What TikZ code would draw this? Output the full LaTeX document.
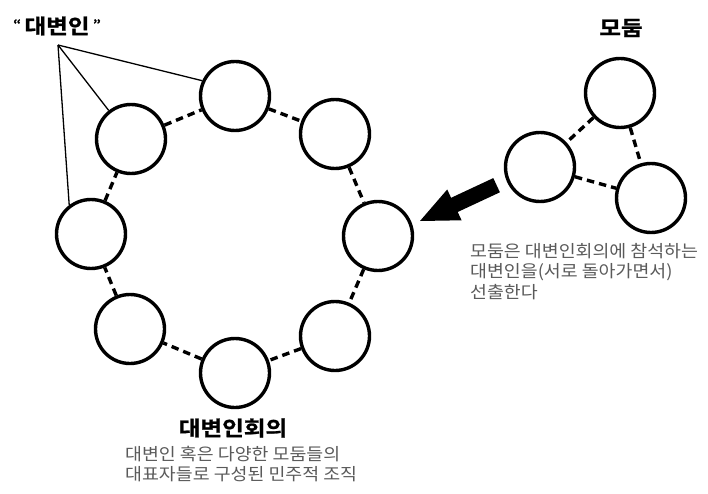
\documentclass[tikz,border=0pt]{standalone}
\usepackage{fontspec}
\setmainfont{Noto Sans CJK KR}
\newfontfamily\descfont[FakeStretch=1.08]{Noto Sans CJK KR}
\newfontfamily\titlefont[FakeStretch=1.15,FakeBold=1.2]{Noto Sans CJK KR Bold}
\definecolor{txtgray}{HTML}{5A5A5A}
\begin{document}
\begin{tikzpicture}[x=1pt,y=-1pt,
  member/.style={circle,draw=black,line width=3.4pt,minimum size=69pt,inner sep=0pt},
  link/.style={line width=3.4pt,dash pattern=on 7.5pt off 5pt},
  pointer/.style={line width=1.3pt},
  title/.style={font=\titlefont\fontsize{20.5}{22}\selectfont,inner sep=0pt},
  desc/.style={font=\descfont\fontsize{17}{20.5}\selectfont,text=txtgray,align=left,inner sep=0pt,anchor=north west}]
\useasboundingbox (0,0) rectangle (708,494);
% ring of spokespersons
\node[member] (n1) at (235,96) {};
\node[member] (n2) at (335,134) {};
\node[member] (n3) at (378,236) {};
\node[member] (n4) at (335,336) {};
\node[member] (n5) at (235,373) {};
\node[member] (n6) at (130,329) {};
\node[member] (n7) at (91,234) {};
\node[member] (n8) at (131,139) {};
\foreach \a/\b in {n1/n2,n2/n3,n3/n4,n4/n5,n5/n6,n6/n7,n7/n8,n8/n1}
  \draw[link] (\a) -- (\b);
% group
\node[member] (g1) at (620,93) {};
\node[member] (g2) at (540,167) {};
\node[member] (g3) at (651,198) {};
\draw[link] (g1) -- (g2);
\draw[link] (g1) -- (g3);
\draw[link] (g2) -- (g3);
% titles
\node[title] (tspk) at (57,26) {\raisebox{5pt}{\fontsize{12}{12}\selectfont“}\,대변인\,\raisebox{5pt}{\fontsize{12}{12}\selectfont”}};
\coordinate (apex) at (58,45);
\draw[pointer] (apex) -- (n1.155);
\draw[pointer] (apex) -- (n8.128);
\draw[pointer] (apex) -- (n7.127);
\node[title] (tgrp) at (621,28) {모둠};
\node[title] (tcouncil) at (233,428) {대변인회의};
% descriptions
\node[desc] (dgrp) at (470,243) {모둠은 대변인회의에 참석하는\\대변인을(서로 돌아가면서)\\선출한다};
\node[desc] (dcouncil) at (125,446) {대변인 혹은 다양한 모둠들의\\대표자들로 구성된 민주적 조직};
% big arrow
\fill[black] (420,221) -- (461.6,220.3) -- (457.7,212.0) -- (499.9,192.3)
  -- (493.3,178.1) -- (451.1,197.8) -- (447.2,189.5) -- cycle;
\end{tikzpicture}
\end{document}
